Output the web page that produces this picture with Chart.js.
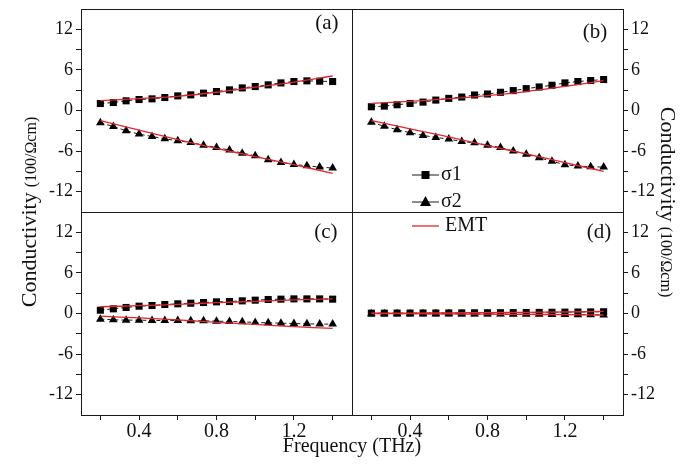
<!DOCTYPE html>
<html>
<head>
<meta charset="utf-8">
<script src="https://cdn.jsdelivr.net/npm/chart.js@4.4.1/dist/chart.umd.min.js"></script>
<style>
html, body { margin: 0; padding: 0; background: #fff; }
</style>
</head>
<body>
<canvas id="cond" width="693" height="466"></canvas>
<script>
// frequency (THz) of measured points and of the EMT curve
var freq = [0.2, 0.267, 0.333, 0.4, 0.467, 0.533, 0.6, 0.667, 0.733, 0.8,
            0.867, 0.933, 1.0, 1.067, 1.133, 1.2, 1.267, 1.333, 1.4];
var freqEmt = [0.2, 0.4, 0.6, 0.8, 1.0, 1.2, 1.4];

// panel (a)
var s1a = [1.03, 1.18, 1.43, 1.62, 1.72, 1.92, 2.16, 2.31, 2.56, 2.80, 3.05, 3.34, 3.54, 3.79, 4.08, 4.28, 4.38, 4.33, 4.28];
var s2a = [-1.82, -2.36, -3.0, -3.49, -3.84, -4.18, -4.48, -4.72, -5.12, -5.46, -5.85, -6.3, -6.69, -7.28, -7.67, -7.97, -8.17, -8.36, -8.51];
var emt1a = [1.45, 1.75, 2.1, 2.7, 3.45, 4.2, 5.1];
var emt2a = [-1.5, -2.9, -4.3, -5.6, -6.8, -8.0, -9.3];
// panel (b)
var s1b = [0.55, 0.65, 0.85, 1.04, 1.24, 1.54, 1.79, 1.99, 2.29, 2.44, 2.69, 2.94, 3.23, 3.48, 3.73, 4.08, 4.28, 4.43, 4.58];
var s2b = [-1.74, -2.34, -2.84, -3.28, -3.68, -3.98, -4.23, -4.58, -4.78, -5.12, -5.47, -5.97, -6.47, -6.97, -7.51, -8.01, -8.21, -8.31, -8.36];
var emt1b = [1.05, 1.35, 1.75, 2.2, 2.8, 3.55, 4.4];
var emt2b = [-1.5, -2.7, -3.9, -5.2, -6.4, -7.7, -9.0];
// panel (c)
var s1c = [0.49, 0.69, 0.89, 1.08, 1.18, 1.33, 1.43, 1.52, 1.62, 1.72, 1.77, 1.87, 1.97, 2.07, 2.12, 2.16, 2.16, 2.16, 2.12];
var s2c = [-0.84, -0.93, -0.98, -0.98, -1.03, -1.03, -1.03, -1.08, -1.08, -1.13, -1.18, -1.23, -1.33, -1.38, -1.43, -1.48, -1.52, -1.57, -1.57];
var emt1c = [1.0, 1.15, 1.35, 1.6, 1.8, 2.0, 2.15];
var emt2c = [-0.4, -0.65, -0.95, -1.3, -1.6, -1.95, -2.2];
// panel (d)
var s1d = [0.05, 0.05, 0.06, 0.06, 0.07, 0.07, 0.08, 0.09, 0.1, 0.11, 0.12, 0.13, 0.15, 0.16, 0.18, 0.2, 0.22, 0.24, 0.26];
var s2d = [-0.02, -0.02, -0.03, -0.03, -0.04, -0.05, -0.05, -0.06, -0.07, -0.08, -0.09, -0.1, -0.11, -0.12, -0.14, -0.15, -0.17, -0.19, -0.21];
var emt1d = [0.05, 0.07, 0.1, 0.13, 0.17, 0.22, 0.3];
var emt2d = [0, -0.03, -0.06, -0.1, -0.13, -0.17, -0.22];

// ticks
var xTicks = [0.2, 0.4, 0.6, 0.8, 1.0, 1.2, 1.4];
var xLabels = [0.4, 0.8, 1.2];
var yTicks = [-12, -9, -6, -3, 0, 3, 6, 9, 12];
var yLabels = [-12, -6, 0, 6, 12];

var serif = 'Liberation Serif, Times New Roman, serif';
var red = '#e3262d';
var ink = '#1a1a1a';

function pts(xs, ys) {
  return xs.map(function (x, i) { return {x: x, y: ys[i]}; });
}

function sigma(data, xId, yId, shape) {
  return {
    data: pts(freq, data), xAxisID: xId, yAxisID: yId, showLine: true,
    borderColor: ink, borderWidth: 1, borderDash: [4, 3],
    pointStyle: shape, pointRadius: 5, pointHoverRadius: 5,
    pointBackgroundColor: '#000', pointBorderColor: '#000', pointBorderWidth: 0,
    order: 2
  };
}

function emt(data, xId, yId) {
  return {
    data: pts(freqEmt, data), xAxisID: xId, yAxisID: yId, showLine: true,
    borderColor: red, borderWidth: 1.3, pointRadius: 0, tension: 0.3,
    order: 1
  };
}

function yScale(pos, weight) {
  return {
    type: 'linear', position: pos, stack: pos, stackWeight: 1, weight: weight,
    min: -15, max: 15,
    afterBuildTicks: function (s) { s.ticks = yTicks.map(function (v) { return {value: v}; }); },
    afterFit: function (s) {
      s.width = pos === 'left' ? 81 : 70;
      s.paddingTop = 0; s.paddingBottom = 0;
    },
    grid: {drawOnChartArea: false, tickLength: 5, tickColor: ink, tickWidth: 1},
    border: {color: ink, width: 1},
    ticks: {
      autoSkip: false, padding: 3, color: '#111',
      font: {family: serif, size: 18},
      callback: function (v) { return yLabels.indexOf(v) >= 0 ? String(v) : ''; }
    }
  };
}

function xScale(weight) {
  return {
    type: 'linear', position: 'bottom', stack: 'bottom', stackWeight: 1, weight: weight,
    min: 0.1, max: 1.5,
    afterBuildTicks: function (s) { s.ticks = xTicks.map(function (v) { return {value: v}; }); },
    afterFit: function (s) {
      s.height = 51;
      s.paddingLeft = 0; s.paddingRight = 0;
    },
    grid: {drawOnChartArea: false, tickLength: 5, tickColor: ink, tickWidth: 1},
    border: {color: ink, width: 1},
    ticks: {
      autoSkip: false, maxRotation: 0, padding: 0, color: '#111',
      font: {family: serif, size: 20},
      callback: function (v) { return xLabels.indexOf(v) >= 0 ? v.toFixed(1) : ''; }
    }
  };
}

// frame, panel letters, legend and axis titles
var decor = {
  id: 'decor',
  afterDraw: function (chart) {
    var ctx = chart.ctx, a = chart.chartArea;
    var sc = chart.scales;
    var midX = sc.xc.right, midY = sc.ya.bottom;
    ctx.save();
    ctx.strokeStyle = ink;
    ctx.lineWidth = 1;
    ctx.beginPath();
    ctx.moveTo(a.left, a.top + 0.5); ctx.lineTo(a.right, a.top + 0.5);
    ctx.moveTo(Math.round(midX) + 0.5, a.top); ctx.lineTo(Math.round(midX) + 0.5, a.bottom);
    ctx.moveTo(a.left, Math.round(midY) + 0.5); ctx.lineTo(a.right, Math.round(midY) + 0.5);
    ctx.stroke();

    // panel letters
    ctx.fillStyle = '#111';
    ctx.font = '21px ' + serif;
    ctx.textAlign = 'center';
    ctx.textBaseline = 'middle';
    [['(a)', 'xc', 'ya', 1.37, 12.8], ['(b)', 'xd', 'yb', 1.355, 11.6],
     ['(c)', 'xc', 'yc', 1.365, 12.0], ['(d)', 'xd', 'yd', 1.376, 11.9]].forEach(function (p) {
      ctx.fillText(p[0], sc[p[1]].getPixelForValue(p[3]), sc[p[2]].getPixelForValue(p[4]));
    });

    // legend
    var lx = midX + 60;
    var rows = [['σ1', 'rect', midY - 37], ['σ2', 'triangle', midY - 10], ['EMT', null, midY + 14]];
    ctx.font = '20px ' + serif;
    ctx.textAlign = 'left';
    rows.forEach(function (r) {
      var y = r[2];
      ctx.strokeStyle = r[1] ? ink : red;
      ctx.lineWidth = r[1] ? 1 : 1.3;
      ctx.beginPath();
      ctx.moveTo(lx, y); ctx.lineTo(lx + 27, y);
      ctx.stroke();
      ctx.fillStyle = '#000';
      if (r[1] === 'rect') {
        ctx.fillRect(lx + 9.5, y - 4, 8, 8);
      } else if (r[1] === 'triangle') {
        ctx.beginPath();
        ctx.moveTo(lx + 13.5, y - 6); ctx.lineTo(lx + 19, y + 4); ctx.lineTo(lx + 8, y + 4);
        ctx.closePath(); ctx.fill();
      }
      ctx.fillStyle = '#111';
      ctx.fillText(r[0], r[1] ? lx + 29 : lx + 33, y);
    });

    // axis titles
    ctx.textBaseline = 'alphabetic';
    ctx.textAlign = 'left';
    function vTitle(x, y, rot) {
      ctx.save();
      ctx.translate(x, y);
      ctx.rotate(rot);
      ctx.font = '22px ' + serif;
      var w1 = ctx.measureText('Conductivity').width;
      ctx.font = '16px ' + serif;
      var w2 = ctx.measureText('(100/Ωcm)').width;
      var start = -(w1 + 5 + w2) / 2;
      ctx.font = '22px ' + serif;
      ctx.fillText('Conductivity', start, 0);
      ctx.font = '16px ' + serif;
      ctx.fillText('(100/Ωcm)', start + w1 + 5, 0);
      ctx.restore();
    }
    vTitle(36, a.top + (a.bottom - a.top) / 2, -Math.PI / 2);
    vTitle(661, a.top + (a.bottom - a.top) / 2 - 10, Math.PI / 2);

    ctx.font = '20px ' + serif;
    ctx.textAlign = 'center';
    ctx.fillText('Frequency (THz)', midX, 452);
    ctx.restore();
  }
};

new Chart(document.getElementById('cond').getContext('2d'), {
  type: 'scatter',
  data: {
    datasets: [
      sigma(s1a, 'xc', 'ya', 'rect'), sigma(s2a, 'xc', 'ya', 'triangle'), emt(emt1a, 'xc', 'ya'), emt(emt2a, 'xc', 'ya'),
      sigma(s1b, 'xd', 'yb', 'rect'), sigma(s2b, 'xd', 'yb', 'triangle'), emt(emt1b, 'xd', 'yb'), emt(emt2b, 'xd', 'yb'),
      sigma(s1c, 'xc', 'yc', 'rect'), sigma(s2c, 'xc', 'yc', 'triangle'), emt(emt1c, 'xc', 'yc'), emt(emt2c, 'xc', 'yc'),
      sigma(s1d, 'xd', 'yd', 'rect'), sigma(s2d, 'xd', 'yd', 'triangle'), emt(emt1d, 'xd', 'yd'), emt(emt2d, 'xd', 'yd')
    ]
  },
  options: {
    responsive: false,
    animation: false,
    layout: {padding: {top: 9, left: 0, right: 0, bottom: 0}},
    plugins: {legend: {display: false}, tooltip: {enabled: false}},
    scales: {
      ya: yScale('left', 2),
      yc: yScale('left', 1),
      yb: yScale('right', 1),
      yd: yScale('right', 2),
      xc: xScale(1),
      xd: xScale(2)
    }
  },
  plugins: [decor]
});
</script>
</body>
</html>
